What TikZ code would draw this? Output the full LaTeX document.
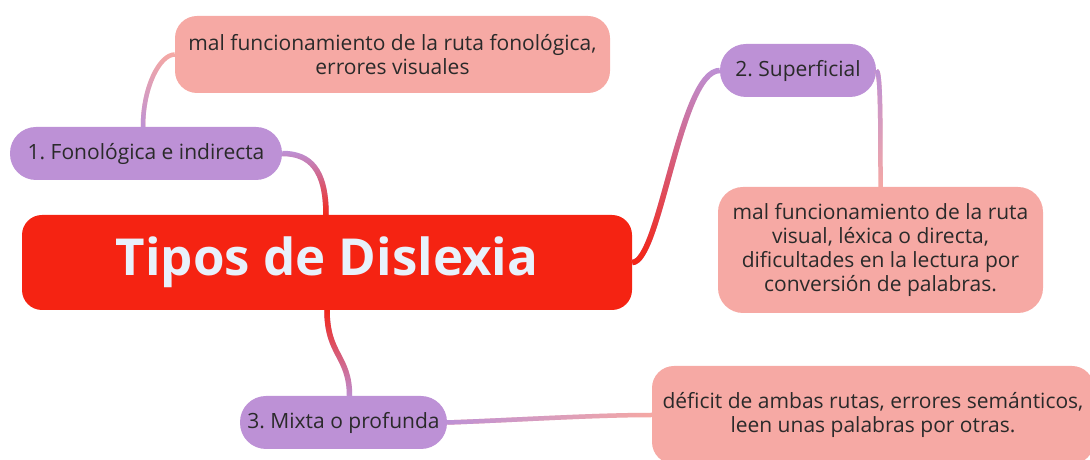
\documentclass[tikz,border=0pt]{standalone}
\usepackage{fontspec}
\setmainfont{Open Sans}
\usepackage{tikz}
\usetikzlibrary{calc}
\usetikzlibrary{fadings}
\definecolor{rootred}{HTML}{F52312}
\definecolor{topicpurple}{HTML}{BD91D6}
\definecolor{leafpink}{HTML}{F6A9A4}
\definecolor{titlewhite}{HTML}{E8F1FB}
\definecolor{textdark}{HTML}{2A2A2A}
\frenchspacing

\begin{document}
\begin{tikzpicture}[x=1pt,y=1pt,
		root/.style={fill=rootred, rounded corners=20pt, minimum width=610pt, minimum height=95pt, text=titlewhite, font=\fontsize{51}{60}\selectfont\bfseries},
		topic/.style={fill=topicpurple, rounded corners=26pt, minimum height=53pt, text=textdark, font=\fontsize{21}{24}\selectfont},
		leaf/.style={fill=leafpink, rounded corners=22pt, text=textdark, align=center, font=\fontsize{21}{24}\selectfont},
		branch/.style n args={3}{line width=5.5pt, draw=#1, postaction={draw=#2, line width=5.5pt, path fading=#3}},
		twig/.style n args={3}{line width=4.5pt, draw=#1, postaction={draw=#2, line width=4.5pt, path fading=#3}}]
		\useasboundingbox (0,0) rectangle (1090,460);
		\clip (0,0) rectangle (1090,460);
		% nodes
		\node[root] (dislexia) at (327,197.5) {Tipos de Dislexia};
		\node[topic, minimum width=272pt] (fonologica) at (146,306.5) {1. Fonológica e indirecta};
		\node[leaf, minimum width=435pt, minimum height=77pt] (rutafono) at (392.5,405.5) {mal funcionamiento de la ruta fonológica,\\errores visuales};
		\node[topic, minimum width=156pt] (superficial) at (798,389.5) {2. Superficial};
		\node[leaf, minimum width=325pt, minimum height=126pt, rounded corners=25pt] (rutavisual) at (880.5,210) {mal funcionamiento de la ruta\\visual, léxica o directa,\\dificultades en la lectura por\\conversión de palabras.};
		\node[topic, minimum width=207pt] (mixta) at (343.5,37.5) {3. Mixta o profunda};
		\node[leaf, minimum width=442pt, minimum height=98pt] (ambas) at (873,45) {déficit de ambas rutas, errores semánticos,\\leen unas palabras por otras.};
		% branches
		\path[branch={topicpurple}{rootred}{north}] ($(dislexia.north)+(-1,0)$) .. controls +(0,45) and +(28,0) .. (fonologica.east);
		\path[branch={topicpurple}{rootred}{north}] (dislexia.east) .. controls +(28,0) and +(-40,0) .. (superficial.west);
		\path[branch={topicpurple}{rootred}{south}] (dislexia.south) .. controls +(0,-45) and +(0,40) .. ($(mixta.north)+(6,0)$);
		\path[twig={leafpink}{topicpurple}{north}] ($(fonologica.north)+(-3,0)$) .. controls +(0,40) and +(-15,0) .. (rutafono.west);
		\path[twig={leafpink}{topicpurple}{south}] (superficial.east) .. controls +(4,0) and +(0,80) .. (rutavisual.north);
		\path[twig={leafpink}{topicpurple}{east}] (mixta.east) .. controls +(60,2) and +(-60,0) .. (ambas.west);
\end{tikzpicture}
\end{document}
